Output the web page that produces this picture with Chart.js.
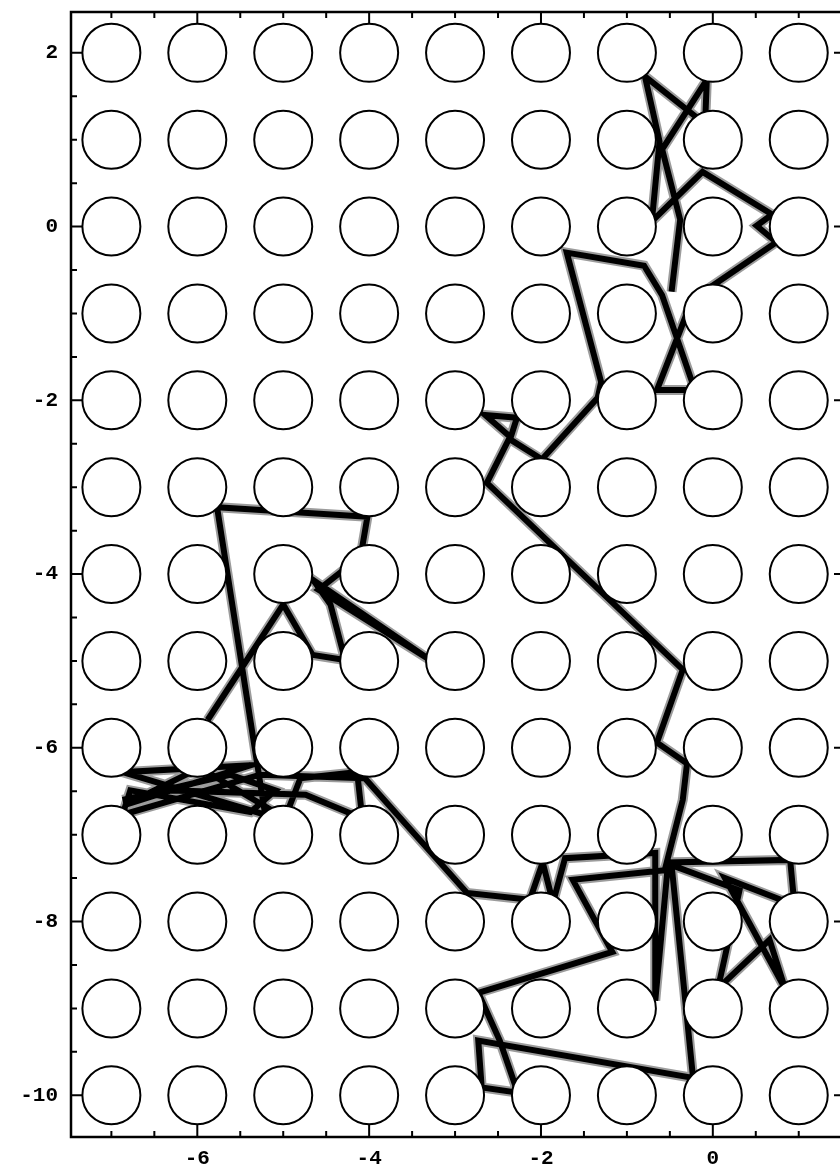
<!DOCTYPE html>
<html lang="en">
<head>
  <meta charset="UTF-8" />
  <title>Billiard trajectory among circular scatterers</title>
  <script src="https://cdn.jsdelivr.net/npm/chart.js"></script>
  <style>
    html, body {
      margin: 0;
      padding: 0;
      background: #ffffff;
      overflow: hidden;
    }
    canvas {
      display: block;
    }
  </style>
</head>
<body>
  <canvas id="walk" width="860" height="1173"></canvas>

  <script>
    // scatterer centres (integer lattice)
    const circleXs = [-7, -6, -5, -4, -3, -2, -1, 0, 1];
    const circleYs = [2, 1, 0, -1, -2, -3, -4, -5, -6, -7, -8, -9, -10];

    // trajectory vertices
    const pathX = [
      -5.88, -5.00, -4.66, -4.28, -4.45, -4.65, -3.26, -4.59, -4.10, -4.02,
      -5.77, -5.21, -6.87, -5.38, -6.85, -5.97, -4.98, -4.80, -4.14, -4.08,
      -4.74, -6.31, -6.87, -5.62, -5.09, -5.38, -6.78, -6.87, -5.27, -4.05,
      -2.86, -2.13, -1.98, -1.86, -1.72, -0.67, -0.67, -0.52, 0.90, 0.95,
      0.14, 0.84, 0.66, 0.06, 0.31, -0.48, -0.23, -2.73, -2.69, -2.27,
      -2.48, -2.73, -1.17, -1.63, -0.56, -0.35, -0.30, -0.65, -0.35, -2.63,
      -2.36, -2.65, -2.28, -2.36, -1.99, -1.34, -1.30, -1.70, -0.80, -0.59,
      -0.21, -0.65, -0.24, 0.74, 0.51, 0.69, -0.12, -0.71, -0.62, -0.79,
      -0.09, -0.07, -0.59, -0.38, -0.48
    ];
    const pathY = [
      -5.68, -4.35, -4.93, -4.99, -4.35, -4.07, -5.01, -4.18, -3.80, -3.34,
      -3.23, -6.77, -6.28, -6.20, -6.66, -6.23, -6.81, -6.35, -6.28, -6.81,
      -6.54, -6.49, -6.60, -6.31, -6.49, -6.74, -6.49, -6.77, -6.31, -6.35,
      -7.67, -7.75, -7.32, -7.78, -7.27, -7.21, -8.91, -7.32, -7.29, -7.81,
      -7.50, -8.77, -8.21, -8.77, -7.64, -7.35, -9.80, -9.37, -9.91, -9.97,
      -9.37, -8.82, -8.35, -7.52, -7.41, -6.60, -6.18, -5.94, -5.10, -2.95,
      -2.42, -2.17, -2.20, -2.45, -2.68, -1.97, -1.79, -0.30, -0.45, -0.79,
      -1.88, -1.88, -0.84, -0.18, 0.01, 0.14, 0.63, 0.06, 0.98, 1.73,
      1.18, 1.69, 0.89, 0.08, -0.75
    ];

    const xTickLabels = [-6, -4, -2, 0];
    const yTickLabels = [2, 0, -2, -4, -6, -8, -10];

    const circles = [];
    circleYs.forEach(y => circleXs.forEach(x => circles.push({ x: x, y: y })));
    const walk = pathX.map((x, i) => ({ x: x, y: pathY[i] }));

    // frame with inward ticks, Mathematica style
    const framePlugin = {
      id: 'frame',
      afterDatasetsDraw(chart) {
        const ctx = chart.ctx;
        const a = chart.chartArea;
        const xs = chart.scales.x;
        const ys = chart.scales.y;
        ctx.save();
        ctx.strokeStyle = '#000';
        ctx.lineWidth = 2.5;
        ctx.strokeRect(a.left, a.top, a.right - a.left, a.bottom - a.top);

        ctx.lineWidth = 2;
        for (let v = -7.5; v <= 1.5; v += 0.5) {
          const px = xs.getPixelForValue(v);
          if (px < a.left + 2 || px > a.right - 2) continue;
          const len = xTickLabels.includes(v) ? 12 : 6;
          ctx.beginPath();
          ctx.moveTo(px, a.bottom); ctx.lineTo(px, a.bottom - len);
          ctx.moveTo(px, a.top); ctx.lineTo(px, a.top + len);
          ctx.stroke();
        }
        for (let v = -10.5; v <= 2.5; v += 0.5) {
          const py = ys.getPixelForValue(v);
          if (py < a.top + 2 || py > a.bottom - 2) continue;
          const len = yTickLabels.includes(v) ? 12 : 6;
          ctx.beginPath();
          ctx.moveTo(a.left, py); ctx.lineTo(a.left + len, py);
          ctx.moveTo(a.right, py); ctx.lineTo(a.right - len, py);
          ctx.stroke();
        }

        ctx.fillStyle = '#000';
        ctx.font = 'bold 21px "Liberation Mono", "DejaVu Sans Mono", monospace';
        ctx.textAlign = 'center';
        ctx.textBaseline = 'middle';
        xTickLabels.forEach(v => {
          ctx.fillText(v < 0 ? '-' + Math.abs(v) : String(v), xs.getPixelForValue(v), a.bottom + 22);
        });
        ctx.textAlign = 'right';
        yTickLabels.forEach(v => {
          ctx.fillText(v < 0 ? '-' + Math.abs(v) : String(v), a.left - 13, ys.getPixelForValue(v));
        });
        ctx.restore();
      }
    };

    new Chart(document.getElementById('walk'), {
      type: 'scatter',
      data: {
        datasets: [
          {
            label: 'scatterers',
            data: circles,
            order: 0,
            pointRadius: 29,
            pointHoverRadius: 29,
            pointBorderWidth: 2,
            pointBackgroundColor: '#ffffff',
            pointBorderColor: '#000000'
          },
          {
            label: 'path',
            data: walk,
            order: 1,
            showLine: true,
            tension: 0,
            borderColor: '#000000',
            borderWidth: 6,
            borderJoinStyle: 'miter',
            pointRadius: 0
          },
          {
            label: 'halo',
            data: walk,
            order: 2,
            showLine: true,
            tension: 0,
            borderColor: '#9c9c9c',
            borderWidth: 10,
            pointRadius: 0
          }
        ]
      },
      options: {
        responsive: false,
        animation: false,
        events: [],
        layout: { autoPadding: false, padding: { left: 71, right: 14, top: 12, bottom: 36 } },
        scales: {
          x: { type: 'linear', min: -7.47, max: 1.55, display: false },
          y: { type: 'linear', min: -10.48, max: 2.47, display: false }
        },
        plugins: {
          legend: { display: false },
          tooltip: { enabled: false }
        }
      },
      plugins: [framePlugin]
    });
  </script>
</body>
</html>
